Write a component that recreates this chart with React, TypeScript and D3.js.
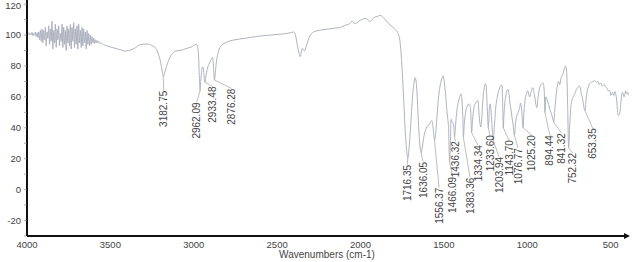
import React from "react";
import * as d3 from "d3";

// ---- data ----
const xTicks = [4000, 3500, 3000, 2500, 2000, 1500, 1000, 500];
const yTicks = [-20, 0, 20, 40, 60, 80, 100, 120];

// noisy high-wavenumber region (4000 -> 3560, step 5)
const noiseStart = 4000;
const noiseValues = [
  101, 100.5, 101.5, 100, 101, 100.2, 101.8, 99.5, 101, 100, 102, 99, 101.5, 98.5, 102, 97, 103, 96, 104, 95,
  103, 97, 105, 93, 102, 98, 106, 94, 104, 96, 109, 91, 103, 95, 107, 92, 104, 97, 106, 93,
  101, 96, 107, 92, 105, 94, 103, 90, 106, 95, 104, 93, 107, 91, 105, 96, 108, 92, 104, 94,
  106, 91, 107, 95, 103, 92, 105, 93, 104, 95, 102, 91, 103, 94, 101, 93, 100, 94, 99, 95,
  98, 94.5, 97, 95, 96.5, 95, 96, 94.5, 95,
];

// rest of the spectrum: [wavenumber, %T]
const spectrumRest: [number, number][] = [
  [3540, 93.8], [3500, 92.3], [3450, 90.8], [3408, 89.7], [3380, 90.3], [3350, 91.8], [3318, 94], [3280, 94.2],
  [3250, 93.2], [3228, 91.5], [3210, 87], [3198, 82], [3188, 76], [3182, 73], [3176, 75], [3165, 79], [3150, 84],
  [3138, 86.5], [3120, 89], [3100, 89.8], [3067, 90.4], [3040, 91.5], [3010, 92.5], [2990, 94], [2980, 93.5],
  [2972, 88], [2966, 72], [2962, 64], [2958, 70], [2952, 77], [2947, 79.5], [2941, 77], [2937, 72], [2933, 69.5],
  [2928, 73], [2920, 77.5], [2910, 81], [2899, 83.5], [2889, 85.5], [2884, 83], [2880, 76], [2876, 71], [2872, 74],
  [2865, 82], [2855, 88], [2840, 92.5], [2810, 95], [2780, 96.3], [2740, 97.2], [2690, 98], [2640, 98.8],
  [2600, 99.4], [2540, 100], [2480, 100.6], [2430, 101.3], [2400, 102], [2390, 100], [2378, 93], [2368, 88],
  [2361, 86], [2355, 89], [2349, 91.5], [2343, 90.5], [2337, 89.8], [2325, 93], [2313, 97], [2300, 100],
  [2289, 101.5], [2260, 102.8], [2241, 103.2], [2200, 103.8], [2151, 104.5], [2120, 105], [2091, 106.4],
  [2070, 107], [2050, 109], [2038, 107.5], [2026, 107.7], [2015, 108.5], [2002, 109.6], [1990, 110],
  [1972, 110.9], [1955, 110], [1942, 108.7], [1930, 110], [1918, 111.5], [1900, 112], [1882, 112.8],
  [1870, 112], [1852, 110], [1835, 108], [1822, 106.4], [1800, 104.5], [1780, 102], [1768, 99], [1758, 90],
  [1750, 77], [1740, 56], [1732, 38], [1724, 26], [1716, 20.5], [1708, 28], [1700, 40], [1692, 54], [1685, 64],
  [1678, 70], [1673, 72.4], [1668, 71], [1661, 62], [1655, 48], [1649, 36], [1642, 27], [1636, 23.7], [1630, 27],
  [1622, 33], [1612, 38], [1600, 41], [1590, 42], [1578, 44], [1571, 44.5], [1565, 40], [1556, 32], [1548, 38],
  [1541, 48], [1532, 60], [1523, 67], [1512, 72], [1505, 73.7], [1498, 70], [1490, 62], [1483, 52], [1477, 46],
  [1472, 40], [1466, 18], [1461, 30], [1457, 45.5], [1451, 44], [1445, 43], [1440, 40], [1436, 34], [1430, 42],
  [1421, 52], [1410, 58], [1397, 62], [1390, 55], [1386, 45], [1383, 34], [1378, 42], [1370, 50], [1360, 54],
  [1350, 55.5], [1343, 54.5], [1338, 48], [1334, 37], [1328, 45], [1320, 53], [1310, 56], [1300, 57.5],
  [1296, 57.7], [1290, 50], [1284, 43], [1278, 40.5], [1272, 48], [1265, 60], [1258, 66], [1252, 68.5],
  [1248, 68], [1242, 58], [1238, 48], [1234, 40], [1230, 46], [1226, 54], [1222, 55.5], [1218, 52], [1212, 42],
  [1204, 32], [1198, 40], [1190, 52], [1180, 60], [1168, 65], [1158, 67.5], [1152, 67.5], [1148, 58], [1144, 40],
  [1139, 50], [1130, 60], [1120, 64.5], [1116, 65], [1110, 62], [1104, 56], [1098, 52], [1092, 47], [1085, 42],
  [1077, 35], [1070, 44], [1062, 48], [1055, 50], [1048, 52], [1040, 56], [1034, 52], [1025, 40], [1020, 50],
  [1013, 58], [1005, 62], [997, 64], [990, 61], [985, 60], [978, 63], [967, 66], [960, 63], [955, 60], [948, 55],
  [943, 53], [935, 60], [925, 66], [918, 68], [913, 68.5], [905, 69], [898, 63], [894, 50], [889, 60], [880, 58],
  [872, 55], [865, 52], [858, 50], [850, 47], [845, 45], [841, 43.5], [836, 50], [828, 60], [820, 67], [812, 70],
  [805, 68], [798, 72], [790, 74], [783, 76], [776, 79], [770, 80], [765, 78], [762, 72], [758, 55], [752, 27],
  [746, 40], [740, 52], [732, 58], [725, 60], [715, 62], [705, 65], [697, 66], [688, 67], [682, 66], [676, 62],
  [670, 60], [664, 56], [658, 52], [653, 51], [648, 58], [640, 64], [632, 67], [625, 68.6], [615, 69.5],
  [605, 70], [595, 70.5], [585, 69.5], [577, 70], [568, 68], [560, 69], [550, 67], [540, 68], [530, 66.5],
  [524, 66], [515, 64], [506, 64.2], [498, 61], [488, 63], [482, 61], [475, 63.5], [470, 62], [464, 58],
  [458, 50], [453, 48], [446, 49], [440, 55], [433, 62], [428, 63], [420, 60], [414, 62], [410, 64], [404, 62],
  [398, 63], [394, 61],
];

// peak annotations: label, peak wavenumber, trough %T, label anchor (wavenumber, %T of text top)
const peakLabels = ["3182.75", "2962.09", "2933.48", "2876.28", "1716.35", "1636.05", "1556.37", "1466.09", "1436.32", "1383.36", "1334.34", "1233.60", "1203.94", "1143.70", "1076.77", "1025.20", "894.44", "841.32", "752.32", "653.35"];
const peakTrough = [73, 64, 69.5, 71, 20.5, 23.7, 32, 18, 34, 34, 37, 40, 32, 40, 35, 40, 50, 43.5, 27, 51];
const labelAtW = [3180, 2983, 2887, 2773, 1720, 1625, 1529, 1447, 1430, 1343, 1296, 1224, 1170, 1110, 1056, 973, 865, 794, 727, 608];
const labelTopT = [64, 56.4, 66.7, 65.4, 16, 18, 1.3, 8.3, 31.4, 7.7, 28.8, 35.3, 21.2, 32, 26.9, 35.3, 35.3, 36.5, 23.7, 39.7];

const W = 633;
const H = 262;

export default function App() {
  const x = d3.scaleLinear().domain([4000, 390]).range([27, 629]);
  const y = d3.scaleLinear().domain([-30, 122.7]).range([236, 0]);

  const noisePts: [number, number][] = noiseValues.map((v, i) => [noiseStart - i * 5, v]);
  const data = [...noisePts, ...spectrumRest];
  const line = d3
    .line<[number, number]>()
    .x((d) => x(d[0]))
    .y((d) => y(d[1]))
    .curve(d3.curveMonotoneX);

  const font = "'Liberation Sans', Arial, sans-serif";
  const textColor = "#444";
  const curveColor = "#a6aab8";

  return (
    <svg width={W} height={H} style={{ position: "absolute", left: 0, top: 0, background: "#fff" }} fontFamily={font}>
      {/* spectrum */}
      <path d={line(data) || ""} fill="none" stroke={curveColor} strokeWidth={0.9} />

      {/* peak labels */}
      {peakLabels.map((lab, i) => {
        const px = x(parseFloat(lab));
        const py = y(peakTrough[i]);
        const lx = x(labelAtW[i]);
        const ly = y(labelTopT[i]);
        return (
          <g key={lab}>
            <line x1={px} y1={py} x2={lx} y2={ly} stroke="#adadad" strokeWidth={0.8} />
            <text
              transform={`translate(${lx},${ly}) rotate(-90)`}
              textAnchor="end"
              dy="0.36em"
              fontSize={10}
              fill={textColor}
            >
              {lab}
            </text>
          </g>
        );
      })}

      {/* axes */}
      <line x1={27} y1={0} x2={27} y2={236} stroke="#111" strokeWidth={2} />
      <line x1={27} y1={236} x2={628} y2={236} stroke="#111" strokeWidth={2} />
      <path d="M624,233 L630,236 L624,239 Z" fill="#111" />
      {d3.range(-30, 121, 10).map((v) => (
        <line key={"mt" + v} x1={24} x2={27} y1={y(v)} y2={y(v)} stroke="#777" strokeWidth={0.6} />
      ))}

      {yTicks.map((v) => (
        <text key={"y" + v} x={21} y={Math.max(y(v), 5.5)} dy="0.35em" textAnchor="end" fontSize={9.5} fill={textColor}>
          {v}
        </text>
      ))}
      {xTicks.map((v) => (
        <text key={"x" + v} x={x(v)} y={248} textAnchor="middle" fontSize={9.5} fill={textColor}>
          {v}
        </text>
      ))}
      <text x={327} y={258} textAnchor="middle" fontSize={10} fill={textColor}>
        Wavenumbers (cm-1)
      </text>
    </svg>
  );
}
